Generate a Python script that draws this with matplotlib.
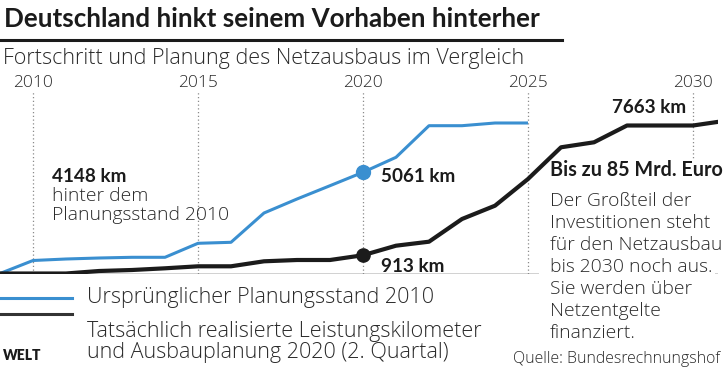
import matplotlib.pyplot as plt
from matplotlib.lines import Line2D

# data (km of transmission lines, cumulative)
plan_years = list(range(2009, 2026))
plan_2010 = [0, 650, 725, 775, 810, 810, 1510, 1560, 3025, 3725, 4390,
             5061, 5810, 7390, 7390, 7525, 7525]

actual_years = list(range(2009, 2032))
actual = [0, 0, 0, 125, 175, 260, 360, 360, 610, 675, 675, 913, 1390,
          1590, 2725, 3390, 4725, 6310, 6560, 7400, 7400, 7400, 7640]

tick_years = [2010, 2015, 2020, 2025, 2030]
mark_year = 2020

note_lines = ['Der Großteil der', 'Investitionen steht', 'für den Netzausbau',
              'bis 2030 noch aus.', 'Sie werden über', 'Netzentgelte', 'finanziert.']

BLUE = '#3a8fd0'
BLACK = '#1b1b1b'
GREY = '#2a2a2a'
BOLD_FONT = 'Lato'
LIGHT = dict(family='Open Sans', fontweight=300, color=GREY)
BOLD = dict(family=BOLD_FONT, fontweight='bold', color=BLACK)

W, H = 724, 373


def fx(px):
    return px / W


def fy(py):
    return 1 - py / H


fig = plt.figure(figsize=(W / 100, H / 100), dpi=100)

# axes: baseline at y=273.5px, top of dotted lines at y=92px
ax_top, ax_bot = 92, 273.5
ax = fig.add_axes([0, fy(ax_bot), fx(718), (ax_bot - ax_top) / H])
ax.set_xlim(2009, 2009 + 718 / 33)
ax.set_ylim(0, (ax_bot - ax_top) * 50)
ax.axis('off')

for yr in tick_years:
    ax.axvline(yr, color='#8a8a8a', lw=0.9, ls=(0, (1, 2)), zorder=1)
    fig.text(ax.transData.transform((yr, 0))[0] / W, fy(87), str(yr),
             ha='center', va='baseline', fontsize=12.5, **LIGHT)

ax.axhline(0, color=BLACK, lw=1.0, zorder=1.5)

ax.plot(plan_years, plan_2010, color=BLUE, lw=2.2, zorder=3, solid_capstyle='butt')
ax.plot(actual_years, actual, color=BLACK, lw=3.0, zorder=3, solid_capstyle='butt')

i = plan_years.index(mark_year)
ax.plot(mark_year, plan_2010[i], 'o', color=BLUE, ms=10, zorder=4)
j = actual_years.index(mark_year)
ax.plot(mark_year, actual[j], 'o', color=BLACK, ms=9.5, zorder=4)

# value labels
fig.text(fx(381), fy(182.5), f'{plan_2010[i]} km', ha='left', va='baseline',
         fontsize=13.6, **BOLD)
fig.text(fx(381), fy(271.5), f'{actual[j]} km', ha='left', va='baseline',
         fontsize=13.6, **BOLD)
fig.text(fx(686), fy(113), '7663 km', ha='right', va='baseline',
         fontsize=13.6, **BOLD)

gap = plan_2010[i] - actual[j]
fig.text(fx(52), fy(181.5), f'{gap} km', ha='left', va='baseline',
         fontsize=13.6, **BOLD)
fig.text(fx(52), fy(201), 'hinter dem', ha='left', va='baseline',
         fontsize=13.9, **LIGHT)
fig.text(fx(52), fy(220.5), 'Planungsstand 2010', ha='left', va='baseline',
         fontsize=13.9, **LIGHT)

# note block on the right, white background hides grid and baseline
ax.add_patch(plt.Rectangle((fx(539), fy(346)), fx(176), (346 - 159) / H,
                           transform=fig.transFigure, facecolor='white',
                           edgecolor='none', zorder=2, clip_on=False))
fig.text(fx(550), fy(176.5), 'Bis zu 85 Mrd. Euro', ha='left', va='baseline',
         fontsize=14.2, **BOLD)
for k, line in enumerate(note_lines):
    fig.text(fx(550), fy(206 + 22 * k), line, ha='left', va='baseline',
             fontsize=13.9, **LIGHT)

# title and subtitle
fig.text(fx(4), fy(27), 'Deutschland hinkt seinem Vorhaben hinterher', ha='left',
         va='baseline', fontsize=18.7, **BOLD)
fig.add_artist(Line2D([0, fx(562)], [fy(40), fy(40)], color=BLACK, lw=2.2))
fig.text(fx(3), fy(64), 'Fortschritt und Planung des Netzausbaus im Vergleich',
         ha='left', va='baseline', fontsize=15.5, **LIGHT)

# legend
fig.add_artist(Line2D([0, fx(72)], [fy(298.3), fy(298.3)], color=BLUE, lw=2.2))
fig.add_artist(Line2D([0, fx(72)], [fy(314.3), fy(314.3)], color='#333333', lw=2.2))
fig.text(fx(87), fy(303.3), 'Ursprünglicher Planungsstand 2010', ha='left',
         va='baseline', fontsize=15.5, **LIGHT)
fig.text(fx(87), fy(336.7), 'Tatsächlich realisierte Leistungskilometer', ha='left',
         va='baseline', fontsize=15.5, **LIGHT)
fig.text(fx(87), fy(358.3), 'und Ausbauplanung 2020 (2. Quartal)', ha='left',
         va='baseline', fontsize=15.5, **LIGHT)

fig.text(fx(3), fy(360), 'WELT', ha='left', va='baseline', fontsize=10,
         family=BOLD_FONT, fontweight='heavy', color=BLACK)
fig.text(fx(720), fy(363), 'Quelle: Bundesrechnungshof', ha='right', va='baseline',
         fontsize=11.4, **LIGHT)

fig.savefig('out.png', dpi=100)
